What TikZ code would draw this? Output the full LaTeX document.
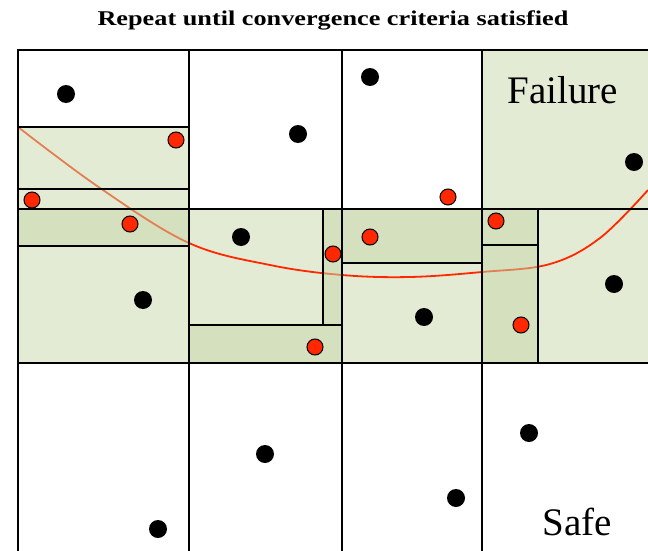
\documentclass[tikz,border=0pt]{standalone}
\usepackage{fontspec}
\setmainfont{Liberation Serif}
\usetikzlibrary{positioning}
\definecolor{cellgreen}{RGB}{228,235,212}
\definecolor{boxgreen}{RGB}{199,215,169}
\definecolor{limitred}{RGB}{255,40,0}

\begin{document}
\begin{tikzpicture}[x=1pt,y=-1pt,
  grid/.style={draw=black,line width=2.2pt},
  cell/.style={fill=cellgreen},
  refine/.style={fill=boxgreen,fill opacity=0.5,draw=black,line width=1.8pt},
  safept/.style={circle,fill=black,minimum size=18pt,inner sep=0pt},
  failpt/.style={circle,fill=limitred,draw=black,line width=1pt,minimum size=16pt,inner sep=0pt}]
\useasboundingbox (0,0) rectangle (648,551);

% cells that the limit state crosses
\fill[cell] (482,50) rectangle (648,209);
\fill[cell] (18,209) rectangle (648,363);

% limit state
\draw[limitred,line width=1.8pt] plot[smooth,tension=0.6] coordinates
  {(18,127) (100,188) (189,243) (270,265) (342,275) (410,277) (482,272) (550,264) (600,238) (648,190)};

% refined boxes
\path[refine] (18,127) rectangle (189,189);
\path[refine] (18,189) rectangle (189,209);
\path[refine] (18,209) rectangle (189,246);
\path[refine] (323,209) rectangle (342,325);
\path[refine] (189,325) rectangle (342,363);
\path[refine] (342,209) rectangle (482,263);
\path[refine] (482,209) rectangle (538,245);
\path[refine] (482,245) rectangle (538,363);

% grid
\draw[grid] (18,551) -- (18,50) -- (648,50);
\foreach \x in {189,342,482}
  \draw[grid] (\x,50) -- (\x,551);
\draw[grid] (18,209) -- (648,209);
\draw[grid] (18,363) -- (648,363);

% samples
\foreach \x/\y [count=\i] in {66/94,298/134,370/77,634/162,241/237,143/300,
    424/317,614/284,265/454,529/433,456/498,158/529}
  \node[safept] (s\i) at (\x,\y) {};
\foreach \x/\y [count=\i] in {176/140,32/200,130/224,448/197,333/254,370/237,
    496/221,521/325,315/347}
  \node[failpt] (f\i) at (\x,\y) {};

% labels
\node[font=\bfseries\fontsize{21}{25}\selectfont] (title) at (333,20)
  {\scalebox{1.25}[1]{Repeat until convergence criteria satisfied}};
\node[anchor=base,font=\fontsize{39}{44}\selectfont] (failure) at (563,103) {Failure};
\node[anchor=base,font=\fontsize{39}{44}\selectfont] (safe) at (577,535) {Safe};
\end{tikzpicture}
\end{document}
